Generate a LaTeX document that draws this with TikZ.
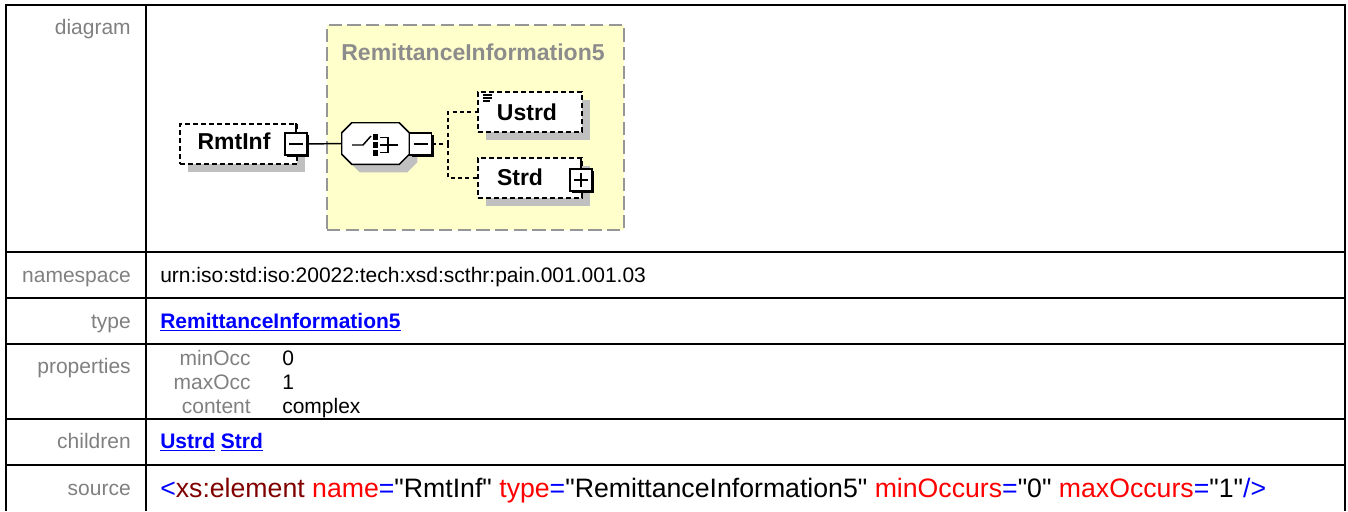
\documentclass[tikz,border=0pt]{standalone}
\usepackage{fontspec}
\setmainfont{Liberation Sans}
\newfontfamily\srcfont{Liberation Sans}[Ligatures=TeXOff]
\usetikzlibrary{calc,shadows}
\definecolor{labelgray}{RGB}{128,128,128}
\definecolor{titlegray}{RGB}{140,140,140}
\definecolor{linkblue}{RGB}{0,0,255}
\definecolor{xsred}{RGB}{128,0,0}
\definecolor{attrred}{RGB}{255,0,0}
\definecolor{cplxfill}{RGB}{255,255,204}
\definecolor{cplxborder}{RGB}{150,150,150}
\definecolor{shadowgray}{RGB}{192,192,192}
\tikzset{
  tbl/.style={line width=1.5pt},
  lbl/.style={anchor=base east, text=labelgray, font=\fontsize{15.75}{18}\selectfont, inner sep=0pt},
  val/.style={anchor=base west, font=\fontsize{15.75}{18}\selectfont, inner sep=0pt},
  lnk/.style={anchor=base west, text=linkblue, font=\fontsize{15.75}{18}\selectfont\bfseries, inner sep=0pt},
  elem/.style={draw, fill=white, line width=1.1pt, dash pattern=on 3.75pt off 2.25pt, inner sep=0pt,
    minimum height=30pt,
    drop shadow={shadow xshift=6pt, shadow yshift=-6pt, fill=shadowgray, opacity=1}},
  elemtext/.style={anchor=base, font=\fontsize{17.25}{20}\selectfont\bfseries, inner sep=0pt},
  pm/.style={draw, fill=white, line width=0.9pt, minimum size=16.5pt, inner sep=0pt,
    drop shadow={shadow xshift=1.5pt, shadow yshift=-1.5pt, fill=black, opacity=1}},
  seqarea/.style={minimum width=50.25pt, minimum height=30.75pt, inner sep=0pt},
  cplxbox/.style={draw=cplxborder, fill=cplxfill, line width=1.5pt, dash pattern=on 10pt off 4pt,
    minimum width=222.75pt, minimum height=153.75pt, inner sep=0pt},
  conn/.style={line width=1.1pt},
  dconn/.style={line width=1.1pt, dash pattern=on 3pt off 2.5pt},
  sym/.style={line width=1.1pt},
}
\begin{document}
\begin{tikzpicture}[x=0.75pt,y=-0.75pt]
\useasboundingbox (0,0) rectangle (1348,511);
% table
\draw[tbl] (6,511) -- (6,5) -- (1345,5) -- (1345,511);
\draw[tbl] (146,5) -- (146,511);
\foreach \yy in {252,298,344,419,465} \draw[tbl] (6,\yy) -- (1345,\yy);
% labels
\node[lbl] (l1) at (131,34) {diagram};
\node[lbl] (l2) at (131,282) {namespace};
\node[lbl] (l3) at (131,328) {type};
\node[lbl] (l4) at (131,373) {properties};
\node[lbl] (l5) at (131,448) {children};
\node[lbl] (l6) at (131,495) {source};
% values
\node[val] (ns) at (160,282) {urn:iso:std:iso:20022:tech:xsd:scthr:pain.001.001.03};
\node[lnk] (ty) at (160,328) {\underline{RemittanceInformation5}};
\node[lbl] (p1) at (251,365) {minOcc};
\node[lbl] (p2) at (251,389) {maxOcc};
\node[lbl] (p3) at (251,413) {content};
\node[val] (v1) at (282,365) {0};
\node[val] (v2) at (282,389) {1};
\node[val] (v3) at (282,413) {complex};
\node[lnk] (ch) at (160,448) {\underline{Ustrd} \underline{Strd}};
\node[val, font=\srcfont\fontsize{20}{24}\selectfont] (src) at (160,497)
  {\textcolor{linkblue}{<}\textcolor{xsred}{xs:element} \textcolor{attrred}{name}\textcolor{linkblue}{=}"RmtInf" \textcolor{attrred}{type}\textcolor{linkblue}{=}"RemittanceInformation5" \textcolor{attrred}{minOccurs}\textcolor{linkblue}{=}"0" \textcolor{attrred}{maxOccurs}\textcolor{linkblue}{=}"1"\textcolor{linkblue}{/>}};
% diagram
\node[cplxbox] (cplx) at (475.5,127.5) {};
\node[anchor=base, text=titlegray, font=\fontsize{17.25}{20}\selectfont\bfseries, inner sep=0pt] (ctitle) at (473,60) {RemittanceInformation5};
\coordinate (j) at (448,144);
\node[elem, minimum width=87.75pt] (rmt) at (238.5,144) {};
\node[pm] (rmtminus) at (296,144) {};
\node[seqarea] (seq) at (375.5,143.5) {};
% octagon with shadow
\fill[shadowgray] ($(seq.north west)+(18,8)$) -- ($(seq.north east)+(-2,8)$) -- ($(seq.north east)+(8,18)$) -- ($(seq.south east)+(8,-2)$) -- ($(seq.south east)+(-2,8)$) -- ($(seq.south west)+(18,8)$) -- ($(seq.south west)+(8,-2)$) -- ($(seq.north west)+(8,18)$) -- cycle;
\draw[fill=white, line width=1.1pt] ($(seq.north west)+(10,0)$) -- ($(seq.north east)+(-10,0)$) -- ($(seq.north east)+(0,10)$) -- ($(seq.south east)+(0,-10)$) -- ($(seq.south east)+(-10,0)$) -- ($(seq.south west)+(10,0)$) -- ($(seq.south west)+(0,-10)$) -- ($(seq.north west)+(0,10)$) -- cycle;
\node[pm] (seqminus) at (420.5,144) {};
\node[elem, minimum width=78pt] (ustrd) at (530,112) {};
\node[elem, minimum width=78pt] (strd) at (530,178) {};
\node[pm] (strdplus) at (581,180) {};
% connectors
\draw[conn] (rmtminus.east) -- (seq.west);
\draw[dconn] (seqminus.east) -- (j);
\draw[dconn] (j) |- (ustrd.west);
\draw[dconn] (j) |- (strd.west);
\draw[conn] (rmtminus.north) -- (rmtminus.north |- rmt.north);
\draw[conn] (strdplus.north) -- (strdplus.north |- strd.north);
% texts in elements
\node[elemtext] (rmttext) at (234,149) {RmtInf};
\node[elemtext] (ustrdtext) at (527,120) {Ustrd};
\node[elemtext] (strdtext) at (520,185) {Strd};
% minus / plus signs
\draw[sym] ($(rmtminus.center)+(-7,0)$) -- ($(rmtminus.center)+(7,0)$);
\draw[sym] ($(seqminus.center)+(-7,0)$) -- ($(seqminus.center)+(7,0)$);
\draw[sym] ($(strdplus.center)+(-7,0)$) -- ($(strdplus.center)+(7,0)$);
\draw[sym] ($(strdplus.center)+(0,-7)$) -- ($(strdplus.center)+(0,7)$);
% sequence symbol
\draw[sym] (352,145) -- (363,145) -- (371,136);
\fill (373,134) rectangle (378,140);
\fill (373,142) rectangle (378,148);
\fill (373,150) rectangle (378,156);
\draw[sym] (380,137.5) -- (388,137.5) -- (388,152.5) -- (380,152.5);
\draw[sym] (380,145) -- (398,145);
% Ustrd icon
\draw[line width=0.9pt] (483,95) -- (492,95);
\draw[line width=0.9pt] (483,98) -- (492,98);
\draw[line width=0.9pt] (483,101) -- (490,101);
\end{tikzpicture}
\end{document}
